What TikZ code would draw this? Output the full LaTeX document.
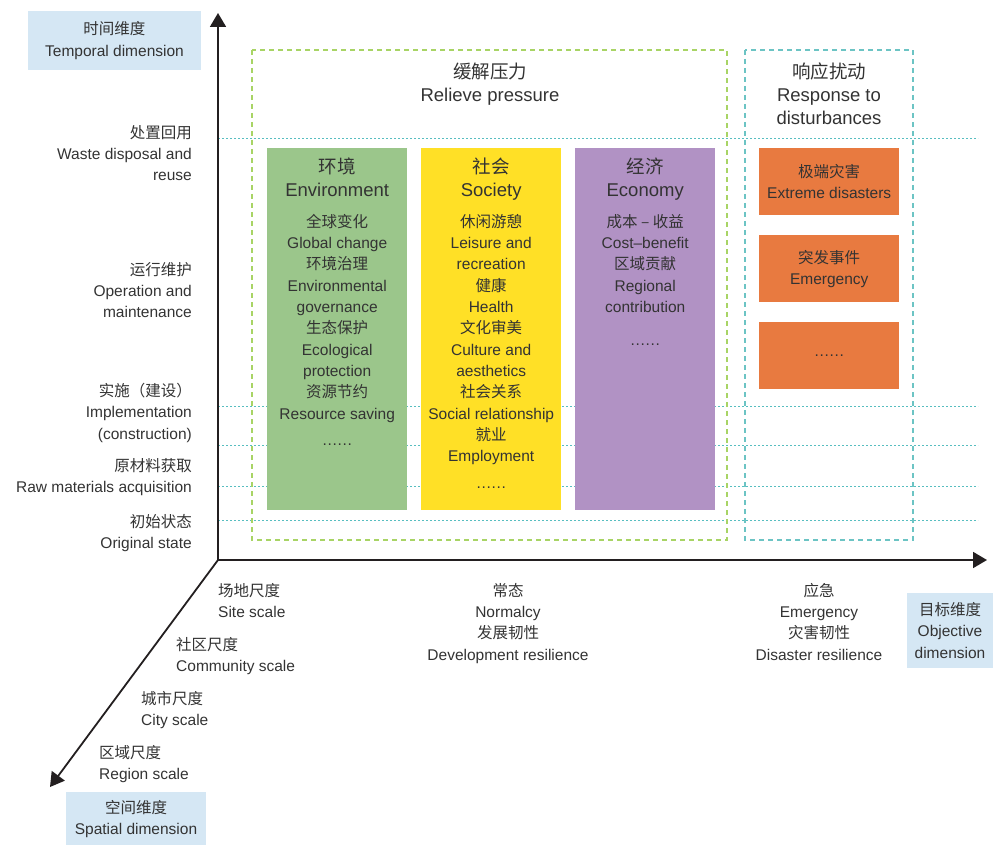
\documentclass[tikz,border=0pt]{standalone}
\usepackage{fontspec}
\setmainfont{Liberation Sans}
\newfontfamily\cjk{Noto Sans CJK SC}
\usepackage{tikz}
\usetikzlibrary{arrows.meta,positioning}
\newcommand{\zh}[1]{{\cjk #1}}
\newcommand{\bodyfs}{\fontsize{15.5}{21.3}\selectfont}
\newcommand{\titlefs}{\fontsize{18.5}{23}\selectfont}
\newcommand{\moredots}{.\kern0.7pt.\kern0.7pt.\kern0.7pt.\kern0.7pt.\kern0.7pt.}
\definecolor{txtgray}{HTML}{333333}
\definecolor{axisblack}{HTML}{231F20}
\definecolor{envgreen}{HTML}{9BC68B}
\definecolor{socyellow}{HTML}{FFE026}
\definecolor{ecopurple}{HTML}{B192C4}
\definecolor{evorange}{HTML}{E87A40}
\definecolor{dimblue}{HTML}{D5E7F4}
\definecolor{relgreen}{HTML}{A8D465}
\definecolor{respteal}{HTML}{6CC4C4}
\definecolor{stagecyan}{HTML}{57BEC0}
\tikzset{lbl/.style={text=txtgray,font=\bodyfs,inner sep=0pt,align=center},
	title/.style={lbl,font=\titlefs,anchor=north},
	item/.style={lbl,anchor=north},
	pillar/.style={minimum width=140pt,minimum height=362pt,inner sep=0pt,anchor=north west},
	event/.style={lbl,fill=evorange,minimum width=140pt,minimum height=67pt,anchor=north west},
	dimbox/.style={lbl,fill=dimblue},
	stageline/.style={draw=stagecyan,line width=0.9pt,dash pattern=on 2pt off 2pt},
	relieve/.style={draw=relgreen,line width=1.3pt,dash pattern=on 5pt off 4pt},
	respond/.style={draw=respteal,line width=1.3pt,dash pattern=on 5pt off 4pt},
	axis/.style={draw=axisblack,line width=1.8pt,line join=miter}}

\begin{document}
\begin{tikzpicture}[x=1pt,y=-1pt]
\useasboundingbox (0,0) rectangle (993,845);
% stages
\draw[stageline] (218,138) -- (978,138);
\draw[stageline] (218,406) -- (978,406);
\draw[stageline] (218,445) -- (978,445);
\draw[stageline] (218,486) -- (978,486);
\draw[stageline] (218,520) -- (978,520);
\draw[relieve] (252,50) rectangle (727,540);
\draw[respond] (745,50) rectangle (913,540);
% axes
\coordinate (o) at (218,560);
\coordinate (tup) at (218,13);
\coordinate (tright) at (987,560);
\coordinate (tdiag) at (50,787);
\draw[axis,{Triangle[length=14pt,width=16pt]}-{Triangle[length=14pt,width=16pt]}] (tup) -- (o) -- (tright);
\draw[axis,-{Triangle[length=14pt,width=16pt]}] (o) -- (tdiag);
\node[dimbox,minimum width=173pt,minimum height=59pt] (tdim) at (114.5,40.5) {\zh{时间维度}\\Temporal dimension};
\node[dimbox,minimum width=140pt,minimum height=54pt] (sdim) at (136,819) {\zh{空间维度}\\Spatial dimension};
\node[dimbox,minimum width=86pt,minimum height=75pt] (odim) at (950,630.5) {\zh{目标维度}\\Objective\\dimension};
% pillars
\node[pillar,fill=envgreen] (env) at (267,148) {};
\node[pillar,fill=socyellow] (soc) at (421,148) {};
\node[pillar,fill=ecopurple] (eco) at (575,148) {};
\node[title,below=9.5pt of env.north] (envt) {\zh{环境}\\Environment};
\node[title,below=9.5pt of soc.north] (soct) {\zh{社会}\\Society};
\node[title,below=9.5pt of eco.north] (ecot) {\zh{经济}\\Economy};
\node[item,below=66pt of env.north] (envi) {\zh{全球变化}\\Global change\\\zh{环境治理}\\Environmental\\governance\\\zh{生态保护}\\Ecological\\protection\\\zh{资源节约}\\Resource saving};
\node[item,below=66pt of soc.north] (soci) {\zh{休闲游憩}\\Leisure and\\recreation\\\zh{健康}\\Health\\\zh{文化审美}\\Culture and\\aesthetics\\\zh{社会关系}\\Social relationship\\\zh{就业}\\Employment};
\node[item,below=66pt of eco.north] (ecoi) {\zh{成本 – 收益}\\Cost–benefit\\\zh{区域贡献}\\Regional\\contribution};
\node[item,below=296pt of env.north] (envd) {\moredots};
\node[item,below=339pt of soc.north] (socd) {\moredots};
\node[item,below=196pt of eco.north] (ecod) {\moredots};
% disturbances
\node[title] (relt) at (490,63) {\zh{缓解压力}\\Relieve pressure};
\node[title] (respt) at (829,63) {\zh{响应扰动}\\Response to\\disturbances};
\node[event] (extreme) at (759,148) {\zh{极端灾害}\\Extreme disasters};
\node[event] (emergency) at (759,235) {\zh{突发事件}\\Emergency};
\node[event] (others) at (759,322) {\moredots};
% temporal stages
\node[lbl,align=right,anchor=north east] (waste) at (192,125) {\zh{处置回用}\\Waste disposal and\\reuse};
\node[lbl,align=right,anchor=north east] (operation) at (192,262) {\zh{运行维护}\\Operation and\\maintenance};
\node[lbl,align=right,anchor=north east] (implement) at (192,383) {\zh{实施（建设）}\\Implementation\\(construction)};
\node[lbl,align=right,anchor=north east] (raw) at (192,458) {\zh{原材料获取}\\Raw materials acquisition};
\node[lbl,align=right,anchor=north east] (original) at (192,514) {\zh{初始状态}\\Original state};
% objectives
\node[lbl,anchor=north] (normalcy) at (508,583) {\zh{常态}\\Normalcy\\\zh{发展韧性}\\Development resilience};
\node[lbl,anchor=north] (emerg) at (819,583) {\zh{应急}\\Emergency\\\zh{灾害韧性}\\Disaster resilience};
% spatial scales
\node[lbl,align=left,anchor=north west] (site) at (218,583) {\zh{场地尺度}\\Site scale};
\node[lbl,align=left,anchor=north west] (community) at (176,637) {\zh{社区尺度}\\Community scale};
\node[lbl,align=left,anchor=north west] (city) at (141,691) {\zh{城市尺度}\\City scale};
\node[lbl,align=left,anchor=north west] (region) at (99,745) {\zh{区域尺度}\\Region scale};
\end{tikzpicture}
\end{document}
